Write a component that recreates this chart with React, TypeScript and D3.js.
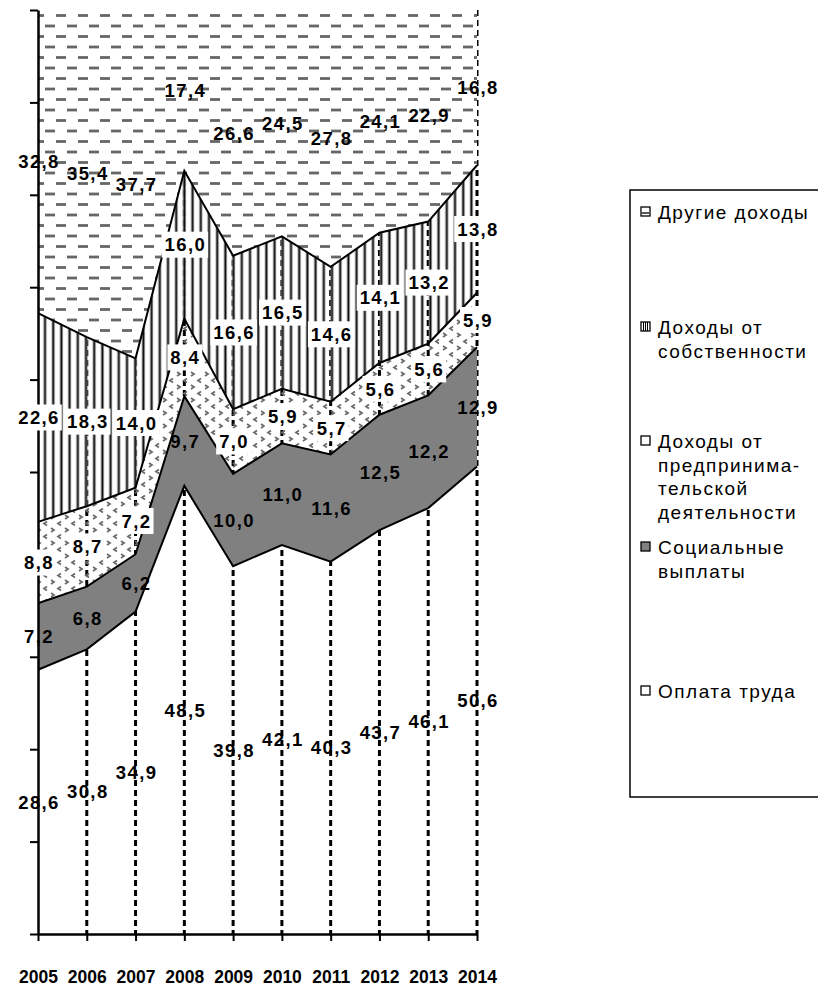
import React, { useEffect, useRef } from 'react'
import * as d3 from 'd3'

const years = [2005, 2006, 2007, 2008, 2009, 2010, 2011, 2012, 2013, 2014]
const wages = [28.6, 30.8, 34.9, 48.5, 39.8, 42.1, 40.3, 43.7, 46.1, 50.6]
const social = [7.2, 6.8, 6.2, 9.7, 10.0, 11.0, 11.6, 12.5, 12.2, 12.9]
const business = [8.8, 8.7, 7.2, 8.4, 7.0, 5.9, 5.7, 5.6, 5.6, 5.9]
const property = [22.6, 18.3, 14.0, 16.0, 16.6, 16.5, 14.6, 14.1, 13.2, 13.8]
const other = [32.8, 35.4, 37.7, 17.4, 26.6, 24.5, 27.8, 24.1, 22.9, 16.8]

const keys = ['wages', 'social', 'business', 'property', 'other']
const legendLines = [
  ['Другие доходы'],
  ['Доходы от', 'собственности'],
  ['Доходы от', 'предпринима-', 'тельской', 'деятельности'],
  ['Социальные', 'выплаты'],
  ['Оплата труда'],
]

const App = () => {
  const svgRef = useRef(null)

  useEffect(() => {
    const svg = d3.select(svgRef.current)
    svg.selectAll('*').remove()

    const rows = years.map((yr, i) => ({
      year: yr,
      wages: wages[i],
      social: social[i],
      business: business[i],
      property: property[i],
      other: other[i],
    }))
    const series = d3.stack().keys(keys)(rows)

    const x = d3.scaleLinear().domain([2005, 2014]).range([38, 477])
    const y = d3.scaleLinear().domain([0, 100]).range([934, 10])

    const defs = svg.append('defs')
    // dashed horizontal pattern (other)
    const pOther = defs.append('pattern').attr('id', 'pOther')
      .attr('patternUnits', 'userSpaceOnUse').attr('width', 22).attr('height', 21)
    pOther.append('rect').attr('width', 22).attr('height', 21).attr('fill', '#fff')
    pOther.append('line').attr('x1', 1).attr('x2', 11).attr('y1', 5).attr('y2', 5)
      .attr('stroke', '#666').attr('stroke-width', 2.8)
    pOther.append('line').attr('x1', 12).attr('x2', 22).attr('y1', 15.5).attr('y2', 15.5)
      .attr('stroke', '#666').attr('stroke-width', 2.8)
    // vertical stripes (property)
    const pProp = defs.append('pattern').attr('id', 'pProp')
      .attr('patternUnits', 'userSpaceOnUse').attr('width', 8.2).attr('height', 10)
    pProp.append('line').attr('x1', 4).attr('x2', 4).attr('y1', 0).attr('y2', 10)
      .attr('stroke', '#888').attr('stroke-width', 3.2)
    pProp.append('line').attr('x1', 4).attr('x2', 4).attr('y1', 0).attr('y2', 10)
      .attr('stroke', '#111').attr('stroke-width', 1.4)
    // scattered marks (business)
    const pBus = defs.append('pattern').attr('id', 'pBus')
      .attr('patternUnits', 'userSpaceOnUse').attr('width', 14).attr('height', 13)
    pBus.append('path').attr('d', 'M5,1.5 L2,3.5 L5,5.5').attr('fill', 'none')
      .attr('stroke', '#6a6a6a').attr('stroke-width', 1.8)
    pBus.append('path').attr('d', 'M9,8 L12,10 L9,12').attr('fill', 'none')
      .attr('stroke', '#6a6a6a').attr('stroke-width', 1.8)

    const fills = {
      wages: 'none',
      social: '#808080',
      business: 'url(#pBus)',
      property: 'url(#pProp)',
      other: 'url(#pOther)',
    }

    // drop lines behind areas
    svg.append('g').selectAll('line').data(years.slice(1)).enter().append('line')
      .attr('x1', d => x(d)).attr('x2', d => x(d))
      .attr('y1', y(100)).attr('y2', y(0))
      .attr('stroke', '#000').attr('stroke-width', 3)
      .attr('stroke-dasharray', '6,4')

    const area = d3.area()
      .x(d => x(d.data.year))
      .y0(d => y(d[0]))
      .y1(d => y(d[1]))

    svg.append('g').selectAll('path').data(series).enter().append('path')
      .attr('d', area)
      .attr('fill', d => fills[d.key])

    const line = d3.line()
      .x(d => x(d.data.year))
      .y(d => y(d[1]))
    svg.append('g').selectAll('path').data(series.slice(0, 4)).enter().append('path')
      .attr('d', line)
      .attr('fill', 'none')
      .attr('stroke', '#000')
      .attr('stroke-width', 2)

    // axes
    const gy = svg.append('g').attr('transform', `translate(${x(2005)},0)`)
      .call(d3.axisLeft(y).ticks(10).tickFormat(() => '').tickSizeInner(8).tickSizeOuter(0))
    gy.select('.domain').attr('stroke-width', 2.5)
    gy.selectAll('.tick line').attr('stroke-width', 2)

    const gx = svg.append('g').attr('transform', `translate(0,${y(0)})`)
      .call(d3.axisBottom(x).tickValues(years).tickFormat(d => String(d))
        .tickSizeInner(7).tickSizeOuter(0).tickPadding(30))
    gx.select('.domain').attr('stroke-width', 2.5)
    gx.selectAll('.tick line').attr('stroke-width', 2)
    gx.selectAll('.tick text')
      .attr('font-family', 'Liberation Sans, Arial, sans-serif')
      .attr('font-size', 17.5).attr('font-weight', 'bold').attr('fill', '#000')

    // data labels
    const labels = svg.append('g')
    series.forEach(s => {
      s.forEach(d => {
        const cx = x(d.data.year)
        const cy = y((d[0] + d[1]) / 2)
        const txt = d3.format('.1f')(d[1] - d[0]).replace('.', ',')
        const boxed = s.key === 'business' || s.key === 'property'
        const g = labels.append('g')
        const t = g.append('text')
          .attr('x', cx + 1).attr('y', cy).attr('dy', '0.36em')
          .attr('text-anchor', 'middle')
          .attr('font-family', 'Liberation Sans, Arial, sans-serif')
          .attr('font-size', 18.5).attr('font-weight', 'bold')
          .attr('letter-spacing', 1.4)
          .text(txt)
        if (boxed) {
          const bb = t.node().getBBox()
          g.insert('rect', 'text')
            .attr('x', bb.x - 3).attr('y', cy - 13)
            .attr('width', bb.width + 5).attr('height', 26)
            .attr('fill', '#fff')
        }
      })
    })

    // legend
    const lg = svg.append('g')
    lg.append('rect').attr('x', 630).attr('y', 190).attr('width', 200).attr('height', 607)
      .attr('fill', '#fff').attr('stroke', '#000').attr('stroke-width', 1.5)
    const legendBase = [219, 334, 448, 554, 698]
    const markFill = ['other', 'property', 'business', 'social', 'wages']
    legendLines.forEach((ls, i) => {
      const by = legendBase[i]
      const mk = markFill[i]
      lg.append('rect').attr('x', 641).attr('y', by - 12).attr('width', 9).attr('height', 9)
        .attr('fill', mk === 'social' ? '#808080' : '#fff').attr('stroke', '#000').attr('stroke-width', 1.3)
      if (mk === 'other') {
        lg.append('line').attr('x1', 642).attr('x2', 649).attr('y1', by - 6).attr('y2', by - 6)
          .attr('stroke', '#555').attr('stroke-width', 2)
      }
      if (mk === 'property') {
        ;[643.5, 645.5, 647.5].forEach(px => {
          lg.append('line').attr('x1', px).attr('x2', px).attr('y1', by - 12).attr('y2', by - 3)
            .attr('stroke', '#000').attr('stroke-width', 1)
        })
      }
      ls.forEach((tx, j) => {
        lg.append('text')
          .attr('x', 658).attr('y', by + j * 23.5)
          .attr('font-family', 'Liberation Sans, Arial, sans-serif')
          .attr('font-size', 19).attr('letter-spacing', 1.5)
          .attr('fill', '#000')
          .text(tx)
      })
    })
  }, [])

  return (
    <svg ref={svgRef} width={818} height={988}
      style={{ position: 'absolute', left: 0, top: 0, background: '#fff' }} />
  )
}

export default App
